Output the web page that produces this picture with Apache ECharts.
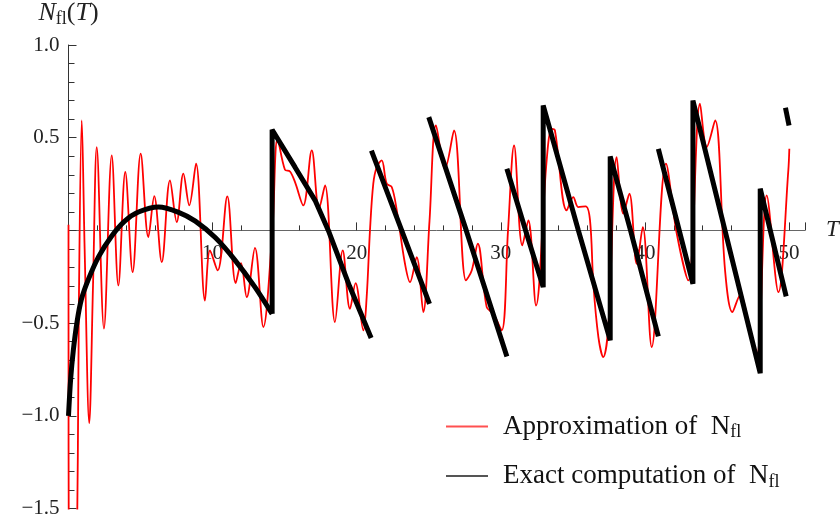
<!DOCTYPE html>
<html>
<head>
<meta charset="utf-8">
<script src="https://cdn.jsdelivr.net/npm/echarts@6/dist/echarts.min.js"></script>
<style>
  html, body { margin: 0; padding: 0; background: #fff; }
  #chart { width: 840px; height: 524px; }
</style>
</head>
<body>
<div id="chart"></div>
<script>
// ---- Data ----
const approxT = [0, 0.04, 0.3, 0.55, 0.72, 0.92, 1.12, 1.44, 1.7, 1.96, 2.46, 3.0, 3.46, 3.94, 4.45, 5.01, 5.54, 5.95, 6.47, 7.04,
  7.51, 7.97, 8.38, 8.85, 9.47, 9.82, 10.35, 11.02, 11.6, 11.97, 12.37, 12.94, 13.52, 14.15, 14.51, 15.02, 15.37, 15.72, 16.29, 16.88,
  17.38, 17.8, 18.49, 19.03, 19.53, 19.92, 20.46, 20.69, 20.92, 21.15, 21.39, 21.73, 22.08, 22.43, 22.78, 23.35, 23.7, 24.16, 24.62, 25.05,
  25.5, 26.13, 26.75, 27.58, 27.98, 28.4, 29.02, 29.48, 30.06, 30.5, 30.92, 31.49, 31.91, 32.44, 33.18, 33.53, 33.75, 34.57, 35.03, 35.37,
  35.89, 36.19, 36.42, 36.77, 37.11, 37.46, 38.04, 38.5, 38.92, 39.43, 39.85, 40.47, 41.46, 42.21, 43.01, 43.82, 44.29, 44.87, 45.56, 46.07,
  46.6, 47.2, 47.76, 48.45, 49.26, 49.95, 50.02];
const approxN = [0.03, -2.4, -2.4, -2.0, -0.4, 0.593, -0.1, -1.04, -0.3, 0.449, -0.53, 0.405, -0.297, 0.315, -0.225, 0.414, -0.036, 0.185, -0.171, 0.27,
  0.045, 0.306, 0.135, 0.36, -0.378, -0.108, -0.216, 0.183, -0.284, -0.176, -0.36, -0.094, -0.521, 0.0, 0.494, 0.327, 0.318, 0.26, 0.135, 0.432,
  0.117, 0.243, -0.494, -0.108, -0.423, -0.284, -0.539, -0.36, 0.0, 0.252, 0.342, 0.378, 0.252, 0.234, 0.108, -0.18, -0.279, -0.144, -0.44, 0.05,
  0.566, 0.333, 0.539, -0.27, -0.216, -0.072, -0.414, -0.45, -0.539, 0.0, 0.458, -0.081, 0.054, -0.405, 0.378, 0.548, 0.54, 0.108, 0.18, 0.126,
  0.13, 0.054, -0.288, -0.575, -0.683, -0.52, 0.395, 0.09, 0.198, -0.18, 0.018, -0.629, 0.36, -0.018, -0.27, 0.683, 0.45, 0.593, -0.216, -0.44,
  -0.35, -0.5, -0.674, 0.189, -0.333, 0.324, 0.44];

// exact computation, drawn as separate pieces (curved first piece, then saw-tooth pieces)
const exactCurve = [[0, -1.0], [0.15, -0.8], [0.33, -0.65], [0.6, -0.49], [0.9, -0.37], [1.4, -0.26], [2.1, -0.14], [3.0, -0.03],
  [3.9, 0.05], [4.85, 0.099], [6.25, 0.126], [7.6, 0.099], [8.8, 0.05], [10.2, -0.04], [11.55, -0.16], [12.94, -0.306], [14.13, -0.45]];
const exactPieceB = [[14.13, -0.45], [14.13, 0.543], [15.72, 0.341], [17.11, 0.162], [18.03, 0.0], [19.5, -0.3], [21.0, -0.58]];
const exactPieceC = [[21.02, 0.43], [23.12, 0.0], [25.05, -0.396]];
const exactPieceD = [[25.0, 0.611], [27.6, 0.0], [30.42, -0.68]];
const exactPieceE = [[30.42, 0.333], [31.72, 0.0], [32.94, -0.306], [32.94, 0.674], [35.38, 0.0], [37.59, -0.593], [37.59, 0.399], [39.0, 0.0], [40.93, -0.572]];
const exactPieceF = [[40.93, 0.44], [43.33, -0.288], [43.33, 0.70], [48.0, -0.77], [48.0, 0.225], [49.8, -0.356]];
const exactPieceG = [[49.75, 0.662], [50.0, 0.566]];

const xTickInterval = 10;
const yTickInterval = 0.5;
const yMin = -1.5, yMax = 1.0;

// ---- Chart ----
const serif = '"Liberation Serif", "DejaVu Serif", serif';
const chart = echarts.init(document.getElementById('chart'), null, { renderer: 'canvas' });

const gridHeight = 463.5;
// place the T axis on the line N = 0 (distance from the bottom of the grid)
const zeroOffset = gridHeight * (0 - yMin) / (yMax - yMin);

const approxData = approxT.map((t, i) => [t, approxN[i]]);
const NAME_A = 'Approximation of N_fl';
const NAME_E = 'Exact computation of N_fl';

const blackPieces = [exactCurve, exactPieceB, exactPieceC, exactPieceD, exactPieceE, exactPieceF, exactPieceG];
const blackSeries = blackPieces.map((p, i) => ({
  name: NAME_E,
  type: 'line',
  data: p,
  smooth: i === 0 ? 0.3 : false,
  symbol: 'none',
  clip: true,
  lineStyle: { color: '#000', width: 5, join: 'bevel', cap: 'butt' },
  itemStyle: { color: '#000' },
  z: 3
}));

const option = {
  animation: false,
  backgroundColor: '#fff',
  grid: { left: 68.5, top: 45, width: 736.4, height: gridHeight, containLabel: false, outerBoundsMode: 'none' },
  xAxis: {
    type: 'value',
    position: 'bottom',
    offset: -zeroOffset,
    min: 0, max: 51.1, interval: xTickInterval,
    name: 'T', nameLocation: 'end', nameGap: 21,
    nameTextStyle: { fontFamily: serif, fontStyle: 'italic', fontSize: 23, color: '#222' },
    axisLine: { onZero: false, lineStyle: { color: '#666', width: 1 } },
    axisTick: { show: true, inside: true, length: 8, lineStyle: { color: '#333' } },
    minorTick: { show: true, splitNumber: 5, length: 5, lineStyle: { color: '#333' } },
    axisLabel: {
      fontFamily: serif, fontSize: 21, color: '#222', margin: 13,
      formatter: v => (v === 0 ? '' : String(v))
    },
    splitLine: { show: false }
  },
  yAxis: {
    type: 'value',
    min: yMin, max: yMax, interval: yTickInterval,
    name: '{i|N}{s|fl}{r|(}{i|T}{r|)}', nameLocation: 'end', nameGap: 17,
    nameTextStyle: {
      color: '#222',
      rich: {
        i: { fontFamily: serif, fontStyle: 'italic', fontSize: 26, color: '#222', lineHeight: 30 },
        s: { fontFamily: serif, fontSize: 18, color: '#222', verticalAlign: 'bottom', lineHeight: 30 },
        r: { fontFamily: serif, fontSize: 26, color: '#222', lineHeight: 30 }
      }
    },
    axisLine: { show: true, onZero: false, lineStyle: { color: '#333', width: 1 } },
    axisTick: { show: true, inside: true, length: 8, lineStyle: { color: '#333' } },
    minorTick: { show: true, splitNumber: 5, length: 6, lineStyle: { color: '#333' } },
    axisLabel: {
      fontFamily: serif, fontSize: 21, color: '#222', margin: 9,
      formatter: v => (Math.abs(v) < 1e-9 ? '' : (v < 0 ? '\u2212' + Math.abs(v).toFixed(1) : v.toFixed(1)))
    },
    splitLine: { show: false }
  },
  legend: {
    orient: 'vertical',
    left: 441, top: 408,
    itemWidth: 42, itemHeight: 2, itemGap: 21,
    icon: 'rect',
    data: [
      { name: NAME_A, itemStyle: { color: '#ff5050' } },
      { name: NAME_E, itemStyle: { color: '#555' } }
    ],
    formatter: name => name === NAME_A
      ? '{g|}{t|Approximation of  N}{s|fl}'
      : '{g|}{t|Exact computation of  N}{s|fl}',
    textStyle: {
      color: '#111',
      rich: {
        g: { width: 10 },
        t: { fontFamily: serif, fontSize: 27, color: '#111', lineHeight: 30 },
        s: { fontFamily: serif, fontSize: 18, color: '#111', lineHeight: 30, verticalAlign: 'bottom' }
      }
    }
  },
  series: [
    {
      name: NAME_A,
      type: 'line',
      data: approxData,
      smooth: 0.35,
      symbol: 'none',
      clip: true,
      lineStyle: { color: '#ff0000', width: 1.8 },
      itemStyle: { color: '#ff0000' },
      z: 2
    },
    ...blackSeries
  ]
};
chart.setOption(option);
</script>
</body>
</html>
